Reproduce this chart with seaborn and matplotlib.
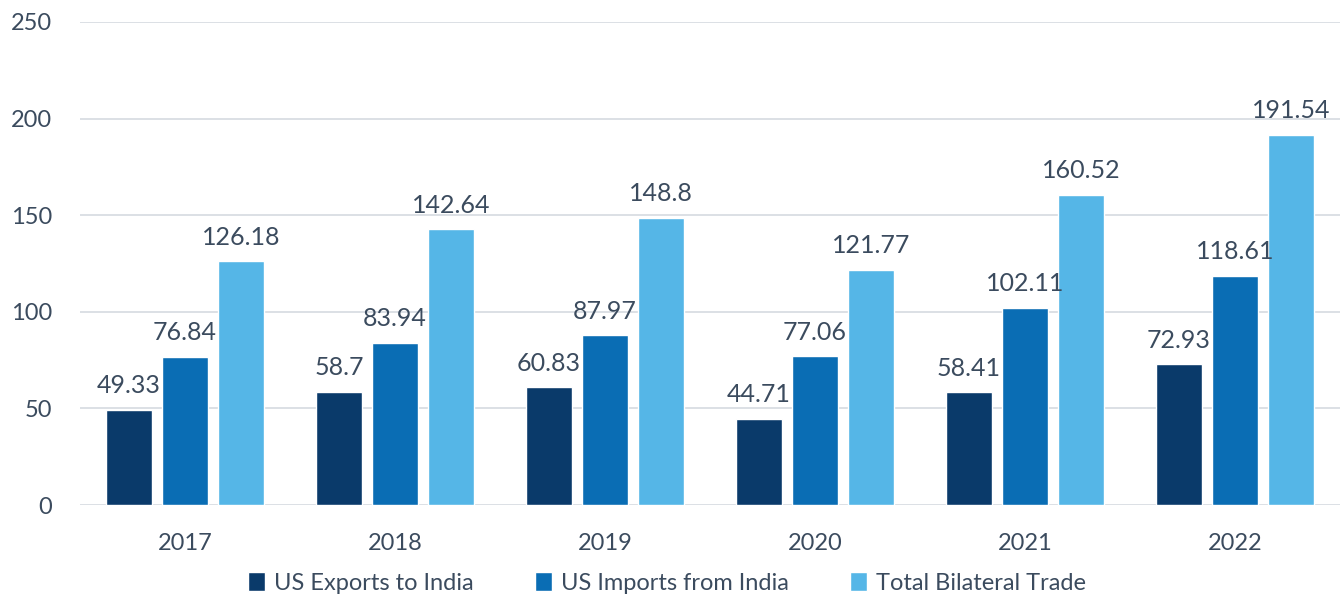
import matplotlib
matplotlib.use("Agg")
import matplotlib.pyplot as plt
import seaborn as sns
import pandas as pd

# US-India trade, billion USD
years = ["2017", "2018", "2019", "2020", "2021", "2022"]
exports = [49.33, 58.7, 60.83, 44.71, 58.41, 72.93]
imports = [76.84, 83.94, 87.97, 77.06, 102.11, 118.61]
total = [126.18, 142.64, 148.8, 121.77, 160.52, 191.54]
series = ["US Exports to India", "US Imports from India", "Total Bilateral Trade"]
colors = ["#0A3A6A", "#0A6DB4", "#55B6E7"]

df = pd.DataFrame({
    "year": years * 3,
    "value": exports + imports + total,
    "series": [series[0]] * 6 + [series[1]] * 6 + [series[2]] * 6,
})

sns.set_style("white")
plt.rcParams["font.family"] = ["Lato", "DejaVu Sans"]
text_color = "#3B4B5E"

fig = plt.figure(figsize=(13.44, 5.99), dpi=100)
ax = fig.add_axes([80 / 1344, 1 - 505 / 599, 1260 / 1344, (505 - 22) / 599])

sns.barplot(data=df, x="year", y="value", hue="series", palette=colors,
            width=0.8, gap=0.17, saturation=1, ax=ax, legend=True)

for c in ax.containers:
    labels = [f"{v:g}" for v in c.datavalues]
    ax.bar_label(c, labels=labels, padding=9, fontsize=18, color=text_color)

ax.set_ylim(0, 250)
ax.set_yticks([0, 50, 100, 150, 200, 250])
ax.set_xlim(-0.5, 5.5)
ax.grid(axis="y", color="#D9DDE3", linewidth=1.3)
ax.set_axisbelow(True)
sns.despine(ax=ax, left=True, top=True, right=True, bottom=True)
ax.set_xlabel("")
ax.set_ylabel("")
ax.tick_params(axis="both", length=0, labelsize=17, labelcolor=text_color)
ax.tick_params(axis="x", pad=20)
ax.tick_params(axis="y", pad=20)

leg = ax.legend(loc="center", bbox_to_anchor=(0.466, -0.161), ncol=3,
                frameon=False, fontsize=17, handlelength=0.7, handleheight=0.9,
                handletextpad=0.4, columnspacing=2.6)
for t in leg.get_texts():
    t.set_color(text_color)

fig.savefig("out.png", dpi=100)
